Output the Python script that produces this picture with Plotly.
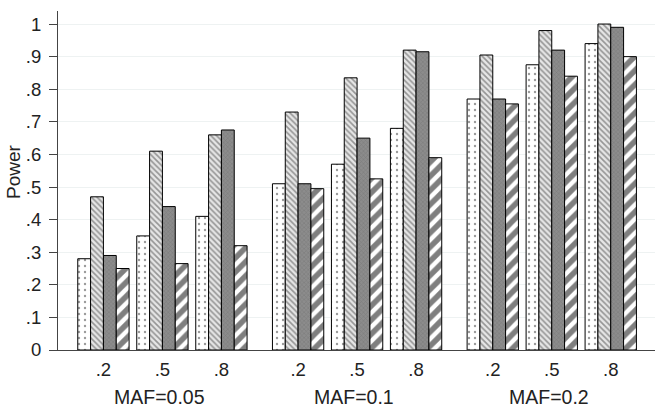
import plotly.graph_objects as go

# MAF groups, heritability-like categories within each group
groups = ["MAF=0.05", "MAF=0.1", "MAF=0.2"]
levels = [".2", ".5", ".8"]

# power values per series, ordered group by group (.2, .5, .8)
dots = [0.28, 0.35, 0.41, 0.51, 0.57, 0.68, 0.77, 0.875, 0.94]
light_hatch = [0.47, 0.61, 0.66, 0.73, 0.835, 0.92, 0.905, 0.98, 1.0]
dark_check = [0.29, 0.44, 0.675, 0.51, 0.65, 0.915, 0.77, 0.92, 0.99]
bold_stripe = [0.25, 0.265, 0.32, 0.495, 0.525, 0.59, 0.755, 0.84, 0.90]

y_ticks = [0, 0.1, 0.2, 0.3, 0.4, 0.5, 0.6, 0.7, 0.8, 0.9, 1.0]
y_tick_text = ["0", ".1", ".2", ".3", ".4", ".5", ".6", ".7", ".8", ".9", "1"]

GROUP_STEP = 3.3
xpos = [g * GROUP_STEP + i for g in range(len(groups)) for i in range(len(levels))]
xlabels = [lv for _ in groups for lv in levels]

FONT = "Liberation Sans, Arial, sans-serif"

styles = [
    (dots, dict(shape=".", fgcolor="#333", bgcolor="white", size=6, solidity=0.12)),
    (light_hatch, dict(shape="\\", fgcolor="#444", bgcolor="#e6e6e6", size=4, solidity=0.4)),
    (dark_check, dict(shape="x", fgcolor="#666", bgcolor="#8c8c8c", size=3, solidity=0.3)),
    (bold_stripe, dict(shape="/", fgcolor="black", bgcolor="white", size=10, solidity=0.55)),
]

fig = go.Figure()
for vals, pat in styles:
    fig.add_trace(
        go.Bar(
            x=xpos,
            y=vals,
            marker=dict(
                color=pat["bgcolor"],
                line=dict(color="black", width=1),
                pattern=pat,
            ),
            showlegend=False,
        )
    )

for g, name in enumerate(groups):
    fig.add_annotation(
        x=g * GROUP_STEP + 0.95,
        y=-0.139,
        xref="x",
        yref="paper",
        text=name,
        showarrow=False,
        yanchor="middle",
        font=dict(size=19.5, color="#222", family=FONT),
    )

# y title as annotation so it sits where the reference has it
fig.add_annotation(
    x=-0.0754,
    y=0.528,
    xref="paper",
    yref="paper",
    xanchor="center",
    yanchor="middle",
    text="Power",
    textangle=-90,
    showarrow=False,
    font=dict(size=19, color="#222", family=FONT),
)

fig.update_layout(
    width=664,
    height=411,
    margin=dict(l=58, r=9, t=11, b=61),
    barmode="group",
    bargap=0.13,
    bargroupgap=0,
    plot_bgcolor="white",
    paper_bgcolor="white",
    font=dict(family=FONT, size=18.5, color="#222"),
)
fig.update_xaxes(
    range=[-0.77, 9.35],
    tickvals=xpos,
    ticktext=xlabels,
    showline=True,
    linecolor="#444",
    linewidth=1,
    ticks="",
    showgrid=False,
    zeroline=False,
    ticklabelstandoff=3,
    automargin=False,
)
fig.update_yaxes(
    range=[0, 1.04],
    tickvals=y_ticks,
    ticktext=y_tick_text,
    showline=True,
    linecolor="#444",
    linewidth=1,
    ticks="outside",
    ticklen=8,
    tickcolor="#444",
    ticklabelstandoff=4,
    showgrid=True,
    gridcolor="#eef2f2",
    zeroline=False,
    automargin=False,
)

# page has a default body margin; drop it so the figure fills the window
fig.write_html(
    "out.html",
    config={"displayModeBar": False},
    post_script="document.body.style.margin='0';document.body.style.overflow='hidden';",
)
